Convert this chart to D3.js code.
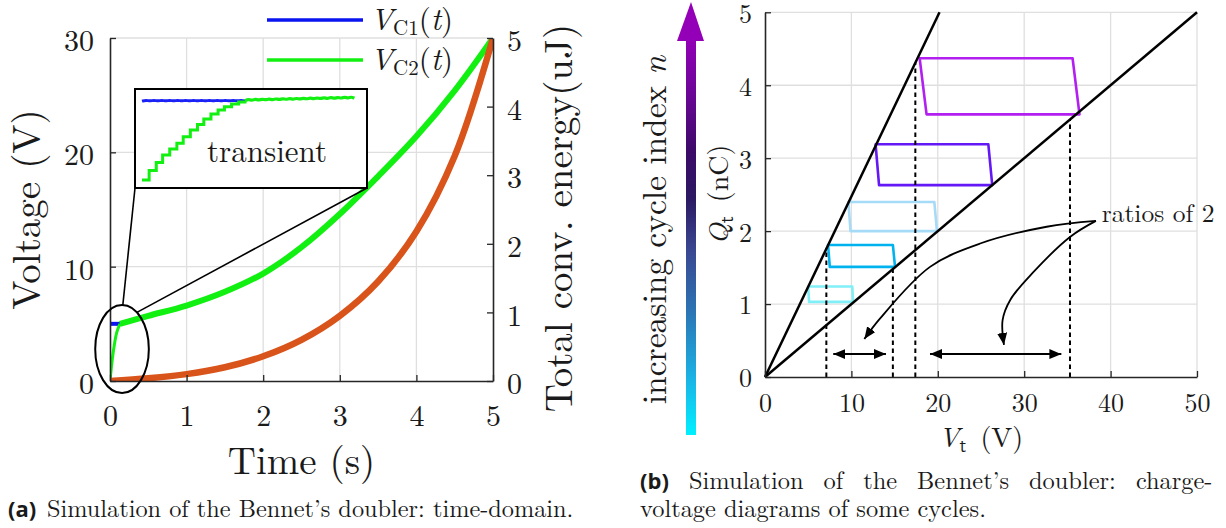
<!DOCTYPE html>
<html><head><meta charset="utf-8">
<script src="https://cdn.jsdelivr.net/npm/d3@7"></script>
<style>
html,body{margin:0;padding:0;background:#fff;}
svg{display:block;}
</style></head><body>
<svg id="c" width="1226" height="528"></svg>
<script>
// ================= DATA =================
// (a) time domain
const timeTicks = [0,1,2,3,4,5];
const voltTicks = [0,10,20,30];
const energyTicks = [0,1,2,3,4,5];
const tVC2 = [0,0.03,0.06,0.09,0.13,0.5,1,1.5,2,2.5,3,3.5,4,4.5,5];
const vC2  = [0,1.9,3.3,4.3,5.0,5.7,6.6,7.8,9.4,11.7,14.6,17.9,21.4,25.4,30.0];
const tVC1 = [0,0.13];
const vC1  = [5.0,5.0];
const tEnergy = [0,0.5,1,1.5,2,2.5,3,3.5,4,4.5,5];
const energy  = [0,0.04,0.10,0.20,0.36,0.60,0.95,1.45,2.18,3.28,5.00];
const legendNames = ["C1","C2"];
const legendColors = ["#0a14f0","#12f012"];
// inset (transient zoom)
const insetStepT = [0,0.009,0.018,0.026,0.035,0.044,0.052,0.061,0.070,0.078,0.087,0.096,0.104,0.113,0.122,0.130];
const insetStepV = [0.00,0.60,1.10,1.58,1.95,2.31,2.73,3.15,3.50,3.85,4.16,4.41,4.62,4.79,4.92,5.00];
const insetRippleT = [0.130,0.134,0.139,0.143,0.147,0.152,0.156,0.160,0.165,0.169,0.173,0.178,0.182,0.186,0.191,0.195,0.199,0.204,0.208,0.212,0.217,0.221,0.225,0.230,0.234,0.238,0.243,0.247,0.251,0.256,0.260,0.264,0.268];
const insetRippleV = [5.00,5.10,5.01,5.11,5.02,5.12,5.03,5.13,5.04,5.14,5.05,5.15,5.06,5.16,5.07,5.17,5.08,5.18,5.09,5.19,5.10,5.20,5.11,5.21,5.12,5.22,5.13,5.23,5.14,5.24,5.15,5.25,5.16];
const insetBlueT = [0,0.005,0.010,0.015,0.020,0.025,0.030,0.035,0.040,0.045,0.050,0.055,0.060,0.065,0.070,0.075,0.080,0.085,0.090,0.095,0.100,0.105,0.110,0.115,0.120,0.125,0.130];
const insetBlueV = [4.97,5.04,4.97,5.04,4.97,5.04,4.97,5.04,4.97,5.04,4.97,5.04,4.97,5.04,4.97,5.04,4.97,5.04,4.97,5.04,4.97,5.04,4.97,5.04,4.97,5.04,4.97];

// (b) charge-voltage diagrams
const vtTicks = [0,10,20,30,40,50];
const qtTicks = [0,1,2,3,4,5];
const boundEndV = [20.2,50];
const boundEndQ = [5,5];
const cycleColors = ["#80eff7","#00b3ef","#a6dbf8","#6418f5","#b21ff0"];
const cycleVTopLeft  = [5.0,7.3,9.65,12.8,17.9];
const cycleVTopRight = [10.1,14.8,19.6,25.85,35.6];
const cycleVBotRight = [10.2,15.05,19.9,26.3,36.4];
const cycleVBotLeft  = [5.1,7.5,9.9,13.2,18.7];
const cycleQTop = [1.24,1.81,2.40,3.19,4.37];
const cycleQBot = [1.03,1.51,2.00,2.63,3.60];
const dashV    = [7.1,14.8,17.4,35.3];
const dashTopQ = [1.76,1.48,4.31,3.53];
const spanFromV = [7.9,19.1];
const spanToV   = [14.0,34.3];
const spanQ = 0.315;
const curve1V = [38.3,32.6,24.9,19.1,13.3,11.5];
const curve1Q = [2.14,2.06,1.83,1.51,0.80,0.52];
const curve2V = [38.3,35.3,31.0,28.4,27.5,27.66];
const curve2Q = [2.14,1.92,1.43,1.06,0.78,0.44];

// ================= DRAW =================
const svg = d3.select('#c');
const SERIF = '"Latin Modern Roman","Liberation Serif",serif';
const SANS = '"Latin Modern Sans","DejaVu Sans",sans-serif';
const SANSB = '"Open Sans","DejaVu Sans",sans-serif';
const gridCol = '#dfdfdf', axisCol = '#262626', ink = '#1a1a1a';

function T(sel, size){ return sel.style('font-family',SERIF).style('font-size',size+'px').style('fill',ink); }

const defs = svg.append('defs');
defs.append('marker').attr('id','ah').attr('viewBox','0 0 12 10').attr('refX',12).attr('refY',5)
  .attr('markerWidth',12).attr('markerHeight',10).attr('markerUnits','userSpaceOnUse').attr('orient','auto-start-reverse')
  .append('path').attr('d','M0,0 L12,5 L0,10 Z').attr('fill','#000');

// ---------- (a) ----------
const L = {x0:110, x1:493, y0:381, y1:38};
const xT = d3.scaleLinear().domain([0,5]).range([L.x0,L.x1]);
const yV = d3.scaleLinear().domain([0,30]).range([L.y0,L.y1]);
const yE = d3.scaleLinear().domain([0,5]).range([L.y0,L.y1]);
const gA = svg.append('g');

gA.selectAll('line.gx').data(timeTicks.filter(d=>d>0&&d<5)).join('line').attr('class','gx')
  .attr('x1',d=>xT(d)).attr('x2',d=>xT(d)).attr('y1',L.y0).attr('y2',L.y1)
  .attr('stroke',gridCol).attr('stroke-width',1.3);
gA.selectAll('line.gy').data(voltTicks.filter(d=>d>0)).join('line').attr('class','gy')
  .attr('x1',L.x0).attr('x2',L.x1).attr('y1',d=>yV(d)).attr('y2',d=>yV(d))
  .attr('stroke',gridCol).attr('stroke-width',1.3);

defs.append('clipPath').attr('id','clipA').append('rect')
  .attr('x',L.x0).attr('y',L.y1).attr('width',L.x1-L.x0).attr('height',L.y0-L.y1);
const plotA = gA.append('g').attr('clip-path','url(#clipA)');

const lineV = d3.line().x(d=>xT(d[0])).y(d=>yV(d[1])).curve(d3.curveCatmullRom.alpha(0.5));
const lineE = d3.line().x(d=>xT(d[0])).y(d=>yE(d[1])).curve(d3.curveCatmullRom.alpha(0.5));
const c2 = tVC2.map((t,i)=>[t,vC2[i]]);
const c1 = tVC1.map((t,i)=>[t,vC1[i]]);
const en = tEnergy.map((t,i)=>[t,energy[i]]);
const split = tVC2.indexOf(0.13);
plotA.append('path').attr('d',lineV(c1)).attr('fill','none').attr('stroke',legendColors[0]).attr('stroke-width',4);
plotA.append('path').attr('d',lineV(c2.slice(split))).attr('fill','none').attr('stroke',legendColors[0]).attr('stroke-width',4);
plotA.append('path').attr('d',lineV(c2.slice(0,split+1))).attr('fill','none').attr('stroke',legendColors[1]).attr('stroke-width',3);
plotA.append('path').attr('d',lineV(c2.slice(split))).attr('fill','none').attr('stroke',legendColors[1]).attr('stroke-width',6);
plotA.append('path').attr('d',lineE(en)).attr('fill','none').attr('stroke','#d9541a').attr('stroke-width',6.5);

function styleAxis(g,size){
  g.attr('color',axisCol);
  g.select('.domain').attr('stroke-width',1.6);
  g.selectAll('.tick line').attr('stroke-width',1.3);
  T(g.selectAll('.tick text'), size);
}
const axB = gA.append('g').attr('transform',`translate(0,${L.y0})`)
  .call(d3.axisBottom(xT).tickValues(timeTicks).tickSize(-6).tickSizeOuter(0).tickPadding(24).tickFormat(d3.format('d')));
styleAxis(axB,30);
const axL = gA.append('g').attr('transform',`translate(${L.x0},0)`)
  .call(d3.axisLeft(yV).tickValues(voltTicks).tickSize(-6).tickSizeOuter(0).tickPadding(16).tickFormat(d3.format('d')));
styleAxis(axL,30); axL.selectAll('.tick text').attr('dy','0.42em');
const axR = gA.append('g').attr('transform',`translate(${L.x1},0)`)
  .call(d3.axisRight(yE).tickValues(energyTicks).tickSize(-6).tickSizeOuter(0).tickPadding(14).tickFormat(d3.format('d')));
styleAxis(axR,30); axR.selectAll('.tick text').attr('dy','0.42em');

T(gA.append('text'),39).attr('x',(L.x0+L.x1)/2).attr('y',474).attr('text-anchor','middle').text('Time (s)');
T(gA.append('text'),39).attr('transform',`translate(39.5,${(L.y0+L.y1)/2}) rotate(-90)`).attr('text-anchor','middle').text('Voltage (V)');
T(gA.append('text'),39).attr('transform',`translate(572,218) rotate(-90)`).attr('text-anchor','middle').text('Total conv. energy(uJ)');

// zoom ellipse + connectors + inset
const ell = {t:0.157, v:2.8, rt:0.35, rv:3.85};
const ecx = xT(ell.t), ecy = yV(ell.v), erx = xT(ell.rt)-xT(0), ery = yV(0)-yV(ell.rv);
gA.append('ellipse').attr('cx',ecx).attr('cy',ecy).attr('rx',erx).attr('ry',ery)
  .attr('fill','none').attr('stroke','#000').attr('stroke-width',2);
const box = {x:135, y:89, w:232, h:99};
const a1 = -Math.PI/2 + 0.03, a2 = -Math.PI/2 + 0.59;
gA.append('line').attr('x1',box.x).attr('y1',box.y+box.h).attr('x2',ecx+erx*Math.cos(a1)).attr('y2',ecy+ery*Math.sin(a1))
  .attr('stroke','#000').attr('stroke-width',1.6);
gA.append('line').attr('x1',box.x+box.w).attr('y1',box.y+box.h).attr('x2',ecx+erx*Math.cos(a2)).attr('y2',ecy+ery*Math.sin(a2))
  .attr('stroke','#000').attr('stroke-width',1.6);
gA.append('rect').attr('x',box.x).attr('y',box.y).attr('width',box.w).attr('height',box.h)
  .attr('fill','#fff').attr('stroke','#000').attr('stroke-width',2);
const ix = d3.scaleLinear().domain([0,0.27]).range([box.x+7, box.x+221]);
const iy = d3.scaleLinear().domain([0,5]).range([box.y+91, box.y+11.7]);
const iLineStep = d3.line().x(d=>ix(d[0])).y(d=>iy(d[1])).curve(d3.curveStepAfter);
const iLineWave = d3.line().x(d=>ix(d[0])).y(d=>iy(d[1])).curve(d3.curveBasis);
gA.append('path').attr('d',iLineWave(insetBlueT.map((t,i)=>[t,insetBlueV[i]])))
  .attr('fill','none').attr('stroke','#1a22f5').attr('stroke-width',3);
gA.append('path').attr('d',iLineStep(insetStepT.map((t,i)=>[t,insetStepV[i]])))
  .attr('fill','none').attr('stroke',legendColors[1]).attr('stroke-width',3);
gA.append('path').attr('d',iLineWave(insetRippleT.map((t,i)=>[t,insetRippleV[i]])))
  .attr('fill','none').attr('stroke',legendColors[1]).attr('stroke-width',3.2);
T(gA.append('text'),31).attr('x',box.x+132).attr('y',box.y+73).attr('text-anchor','middle').text('transient');

// legend
const leg = gA.selectAll('g.leg').data(legendNames).join('g').attr('class','leg')
  .attr('transform',(d,i)=>`translate(267,${20+40*i})`);
leg.append('line').attr('x1',0).attr('x2',96).attr('y1',0).attr('y2',0)
  .attr('stroke',(d,i)=>legendColors[i]).attr('stroke-width',3.5);
const lt = T(leg.append('text'),31).attr('x',103).attr('y',10);
lt.append('tspan').style('font-style','italic').text('V');
lt.append('tspan').style('font-size','21px').attr('dy',5).text(d=>d);
lt.append('tspan').attr('dy',-5).text('(');
lt.append('tspan').style('font-style','italic').text('t');
lt.append('tspan').text(')');

// ---------- (b) ----------
const R = {x0:765, x1:1197, y0:377, y1:12.3};
const xVt = d3.scaleLinear().domain([0,50]).range([R.x0,R.x1]);
const yQ = d3.scaleLinear().domain([0,5]).range([R.y0,R.y1]);
const gB = svg.append('g');
gB.selectAll('line.gx').data(vtTicks.filter(d=>d>0)).join('line').attr('class','gx')
  .attr('x1',d=>xVt(d)).attr('x2',d=>xVt(d)).attr('y1',R.y0).attr('y2',R.y1)
  .attr('stroke',gridCol).attr('stroke-width',1.3);
gB.selectAll('line.gy').data(qtTicks.filter(d=>d>0)).join('line').attr('class','gy')
  .attr('x1',R.x0).attr('x2',R.x1).attr('y1',d=>yQ(d)).attr('y2',d=>yQ(d))
  .attr('stroke',gridCol).attr('stroke-width',1.3);

gB.selectAll('polygon.cyc').data(cycleColors).join('polygon').attr('class','cyc')
  .attr('points',(d,i)=>[[cycleVTopLeft[i],cycleQTop[i]],[cycleVTopRight[i],cycleQTop[i]],[cycleVBotRight[i],cycleQBot[i]],[cycleVBotLeft[i],cycleQBot[i]]]
     .map(p=>xVt(p[0])+','+yQ(p[1])).join(' '))
  .attr('fill','none').attr('stroke',d=>d).attr('stroke-width',2.6).attr('stroke-linejoin','round');
gB.selectAll('line.bd').data(boundEndV).join('line').attr('class','bd')
  .attr('x1',xVt(0)).attr('y1',yQ(0)).attr('x2',d=>xVt(d)).attr('y2',(d,i)=>yQ(boundEndQ[i]))
  .attr('stroke','#000').attr('stroke-width',2.5);
gB.selectAll('line.dash').data(dashV).join('line').attr('class','dash')
  .attr('x1',d=>xVt(d)).attr('x2',d=>xVt(d)).attr('y1',yQ(0)).attr('y2',(d,i)=>yQ(dashTopQ[i]))
  .attr('stroke','#000').attr('stroke-width',2).attr('stroke-dasharray','4.5,3.5');
gB.selectAll('line.span').data(spanFromV).join('line').attr('class','span')
  .attr('x1',d=>xVt(d)).attr('x2',(d,i)=>xVt(spanToV[i])).attr('y1',yQ(spanQ)).attr('y2',yQ(spanQ))
  .attr('stroke','#000').attr('stroke-width',2).attr('marker-start','url(#ah)').attr('marker-end','url(#ah)');
const cLine = d3.line().x(d=>xVt(d[0])).y(d=>yQ(d[1])).curve(d3.curveCatmullRom);
[[curve1V,curve1Q],[curve2V,curve2Q]].forEach(([vs,qs])=>{
  gB.append('path').attr('d',cLine(vs.map((v,i)=>[v,qs[i]]))).attr('fill','none')
    .attr('stroke','#000').attr('stroke-width',1.8).attr('marker-end','url(#ah)');
});
T(gB.append('text'),25.5).attr('x',xVt(38.97)).attr('y',yQ(2.125)).text('ratios of 2');

const bxB = gB.append('g').attr('transform',`translate(0,${R.y0})`)
  .call(d3.axisBottom(xVt).tickValues(vtTicks).tickSize(-6).tickSizeOuter(0).tickPadding(17).tickFormat(d3.format('d')));
styleAxis(bxB,26);
const byB = gB.append('g').attr('transform',`translate(${R.x0},0)`)
  .call(d3.axisLeft(yQ).tickValues(qtTicks).tickSize(-6).tickSizeOuter(0).tickPadding(13).tickFormat(d3.format('d')));
styleAxis(byB,26); byB.selectAll('.tick text').attr('dy','0.38em');

const vtl = T(gB.append('text'),28).attr('x',(R.x0+R.x1)/2).attr('y',447).attr('text-anchor','middle');
vtl.append('tspan').style('font-style','italic').text('V');
vtl.append('tspan').style('font-family',SANS).style('font-size','19px').attr('dy',5).text('t');
vtl.append('tspan').attr('dy',-5).text('\u00a0(V)');
const qtl = T(gB.append('text'),28).attr('transform',`translate(728,${(R.y0+R.y1)/2}) rotate(-90)`).attr('text-anchor','middle');
qtl.append('tspan').style('font-style','italic').text('Q');
qtl.append('tspan').style('font-family',SANS).style('font-size','19px').attr('dy',5).text('t');
qtl.append('tspan').attr('dy',-5).text('\u00a0(nC)');

// colour arrow
const grad = defs.append('linearGradient').attr('id','cyc').attr('x1',0).attr('y1',1).attr('x2',0).attr('y2',0);
[[0,'#00f0ff'],[0.14,'#1ab4e6'],[0.32,'#2c72b2'],[0.47,'#3a4690'],[0.6,'#2c1862'],[0.72,'#3c0a68'],[0.86,'#6a0696'],[1,'#9200b6']]
  .forEach(([o,c])=>grad.append('stop').attr('offset',o).attr('stop-color',c));
gB.append('rect').attr('x',686).attr('y',40).attr('width',10).attr('height',395).attr('fill','url(#cyc)');
gB.append('path').attr('d','M677,41 L704,41 L691,2 Z').attr('fill','#9400b8');
const cyl = T(gB.append('text'),33.5).attr('transform','translate(666,230) rotate(-90)').attr('text-anchor','middle');
cyl.append('tspan').text('increasing cycle index ');
cyl.append('tspan').style('font-style','italic').text('n');

// ---------- captions ----------
const capA = T(svg.append('text'),24.3).attr('x',8).attr('y',517);
capA.append('tspan').style('font-family',SANSB).style('font-weight','bold').style('font-size','22px').text('(a)');
capA.append('tspan').attr('x',47).text('Simulation of the Bennet\u2019s doubler: time-domain.');
const capB1 = T(svg.append('text'),24.4).attr('x',640).attr('y',489);
capB1.append('tspan').style('font-family',SANSB).style('font-weight','bold').style('font-size','22px').text('(b)');
const b1 = capB1.append('tspan').attr('x',689).text('Simulation of the Bennet\u2019s doubler: charge-');
(function(){
  const nat = b1.node().getComputedTextLength();
  b1.style('word-spacing', (((1212.5-689)-nat)/5)+'px');
})();
T(svg.append('text'),24.4).attr('x',640).attr('y',517).text('voltage diagrams of some cycles.');
</script>
</body></html>
